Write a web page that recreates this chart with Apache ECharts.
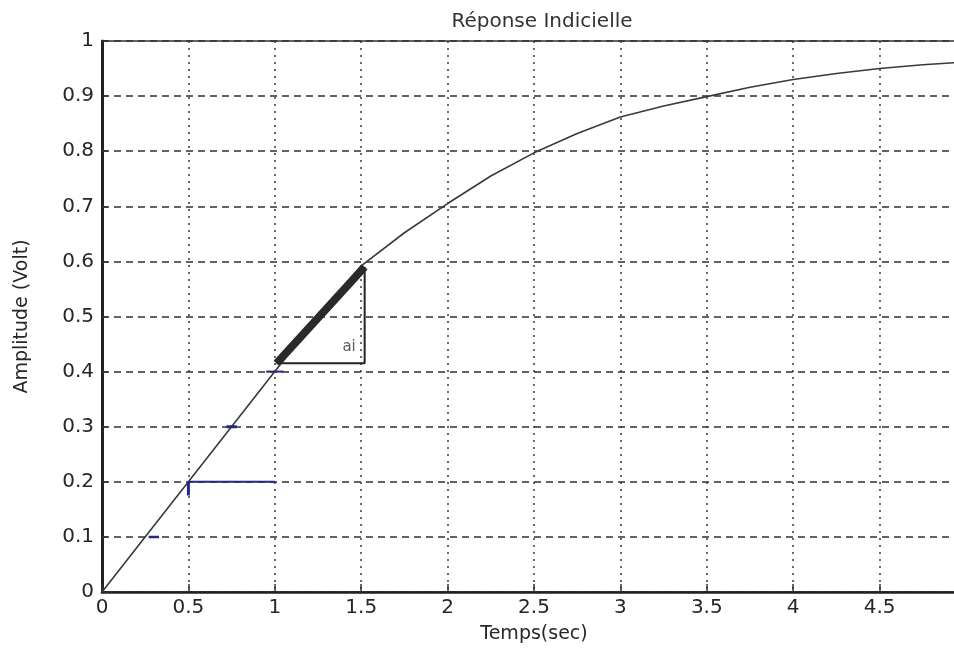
<!DOCTYPE html>
<html>
<head>
<meta charset="utf-8">
<script src="https://cdn.jsdelivr.net/npm/echarts@6/dist/echarts.min.js"></script>
<style>
html,body{margin:0;padding:0;background:#fff;}
#chart{width:954px;height:654px;}
</style>
</head>
<body>
<div id="chart"></div>
<script>
// ---- data ----
var titleText = 'Réponse Indicielle';
var xName = 'Temps(sec)';
var yName = 'Amplitude (Volt)';

// step response curve: [time, amplitude]
var responseT = [0, 1.0, 1.25, 1.5, 1.75, 2.0, 2.25, 2.5, 2.75, 3.0, 3.25, 3.5, 3.75, 4.0, 4.25, 4.5, 4.75, 5.0];
var responseY = [0, 0.4, 0.50, 0.592, 0.652, 0.705, 0.755, 0.797, 0.832, 0.862, 0.882, 0.899, 0.916, 0.93, 0.941, 0.95, 0.957, 0.962];

// hand-drawn annotation: thick tangent segment, its triangle, label "ai"
var tangentT = [1.01, 1.52];
var tangentY = [0.415, 0.59];
var triangleT = [1.01, 1.52, 1.52];
var triangleY = [0.415, 0.415, 0.59];
var aiLabel = {t: 1.43, y: 0.445, text: 'ai'};

// blue pen marks
var blueLine1T = [0.5, 1.0];   var blueLine1Y = [0.2, 0.2];
var blueTickT  = [0.5, 0.5];   var blueTickY  = [0.2, 0.175];
var blueMark1T = [0.27, 0.33]; var blueMark1Y = [0.1, 0.1];
var blueMark2T = [0.72, 0.78]; var blueMark2Y = [0.3, 0.3];
var blueMark3T = [0.95, 1.05]; var blueMark3Y = [0.4, 0.4];

function pairs(a, b) { return a.map(function (v, i) { return [v, b[i]]; }); }

var chart = echarts.init(document.getElementById('chart'), null, {renderer: 'canvas'});
var txt = '#262626';
var blue = '#23268a';

function seg(data, color, width) {
  return {type: 'line', data: data, symbol: 'none', silent: true, animation: false,
          lineStyle: {color: color, width: width}, z: 5};
}

chart.setOption({
  backgroundColor: '#ffffff',
  animation: false,
  title: {
    text: titleText, left: 537, top: 7, textAlign: 'center',
    textStyle: {fontFamily: 'DejaVu Sans', fontSize: 20, fontWeight: 'normal', color: '#333'}
  },
  grid: {left: 102, top: 41, width: 864, height: 551, show: true,
         containLabel: false, outerBoundsMode: 'none',
         borderColor: '#333', borderWidth: 1.5, backgroundColor: 'transparent'},
  xAxis: {
    type: 'value', min: 0, max: 5, interval: 0.5,
    name: xName, nameLocation: 'middle', nameGap: 33,
    nameTextStyle: {fontFamily: 'DejaVu Sans', fontSize: 19, color: txt},
    axisLine: {show: true, lineStyle: {color: '#222', width: 2.5}},
    axisTick: {show: true, inside: true, length: 8, lineStyle: {color: '#333', width: 1.5}},
    axisLabel: {fontFamily: 'DejaVu Sans', fontSize: 20, color: txt, margin: 6},
    splitLine: {show: true, lineStyle: {color: '#3a3a3a', width: 1.5, type: [2, 5]}}
  },
  yAxis: {
    type: 'value', min: 0, max: 1, interval: 0.1,
    name: yName, nameLocation: 'middle', nameGap: 70, nameRotate: 90,
    nameTextStyle: {fontFamily: 'DejaVu Sans', fontSize: 19, color: txt},
    axisLine: {show: true, lineStyle: {color: '#222', width: 3}},
    axisTick: {show: true, inside: true, length: 6, lineStyle: {color: '#333', width: 1.5}},
    axisLabel: {fontFamily: 'DejaVu Sans', fontSize: 20, color: txt, margin: 8},
    splitLine: {show: true, lineStyle: {color: '#2f2f2f', width: 1.6, type: [7, 5]}}
  },
  series: [
    {type: 'line', data: pairs(responseT, responseY), symbol: 'none', smooth: false,
     lineStyle: {color: '#3a3a3a', width: 1.6}, z: 4, animation: false},
    seg(pairs(blueLine1T, blueLine1Y), blue, 2),
    seg(pairs(blueTickT, blueTickY), blue, 3),
    seg(pairs(blueMark1T, blueMark1Y), blue, 2.5),
    seg(pairs(blueMark2T, blueMark2Y), blue, 3),
    seg(pairs(blueMark3T, blueMark3Y), blue, 2),
    seg(pairs(triangleT, triangleY), '#222', 2),
    seg(pairs(tangentT, tangentY), '#2a2a2a', 8),
    {type: 'scatter', data: [[aiLabel.t, aiLabel.y]], symbolSize: 0, silent: true, z: 6,
     label: {show: true, formatter: aiLabel.text, position: 'inside',
             fontFamily: 'DejaVu Sans', fontSize: 15, color: '#333'}}
  ]
});
</script>
</body>
</html>
